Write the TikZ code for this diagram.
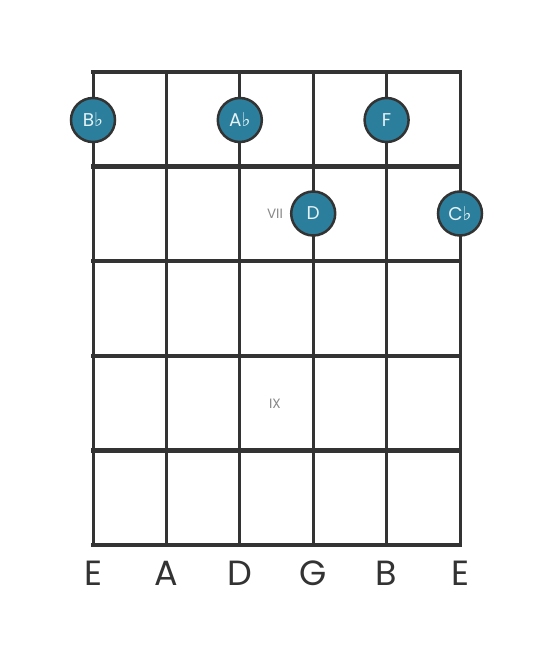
\documentclass[tikz,border=0pt]{standalone}
\usepackage{fontspec}
\setmainfont{Poppins}
\newfontfamily\symf{DejaVu Sans}
\definecolor{lineC}{HTML}{333333}
\definecolor{dotC}{HTML}{2B7F9C}
\definecolor{romC}{HTML}{888888}
\definecolor{noteT}{HTML}{E6F2F6}
\newcommand{\flt}{{\symf\fontsize{19}{19}\selectfont\raisebox{0pt}{♭}}}
\begin{document}
\begin{tikzpicture}[x=1pt,y=-1pt,
  fretline/.style={line width=4.5pt,draw=lineC,line cap=rect},
  strline/.style={line width=3pt,draw=lineC},
  notedot/.style={circle,fill=dotC,draw=lineC,line width=2.5pt,minimum size=44pt,inner sep=0pt,text=noteT,font=\fontsize{18.5}{18.5}\selectfont},
  strlabel/.style={font=\fontsize{35}{35}\selectfont,text=lineC,inner sep=0pt},
  romlabel/.style={font=\fontsize{13.5}{13.5}\selectfont,text=romC,inner sep=0pt}]
\useasboundingbox (0,0) rectangle (553,656);
\foreach \x [count=\i] in {93,166.4,239.8,313.2,386.6,460} {
  \coordinate (st\i) at (\x,72);
  \coordinate (sb\i) at (\x,545);
  \draw[strline] (st\i) -- (sb\i);
}
\foreach \y [count=\j] in {72,166.6,261.2,355.8,450.4,545} {
  \coordinate (fl\j) at (93,\y);
  \coordinate (fr\j) at (460,\y);
  \draw[fretline] (fl\j) -- (fr\j);
}
\node[notedot] (n1) at (93,120) {B\flt};
\node[notedot] (n2) at (239.8,120) {A\flt};
\node[notedot] (n3) at (386.6,120) {F};
\node[notedot] (n4) at (313.2,213.5) {D};
\node[notedot] (n5) at (460,213.5) {C\flt};
\node[romlabel] (r7) at (275,213.5) {VII};
\node[romlabel] (r9) at (275,404) {IX};
\foreach \x/\n [count=\i] in {93/E,166.4/A,239.8/D,313.2/G,386.6/B,460/E} {
  \node[strlabel] (l\i) at (\x,573) {\n};
}
\end{tikzpicture}
\end{document}
